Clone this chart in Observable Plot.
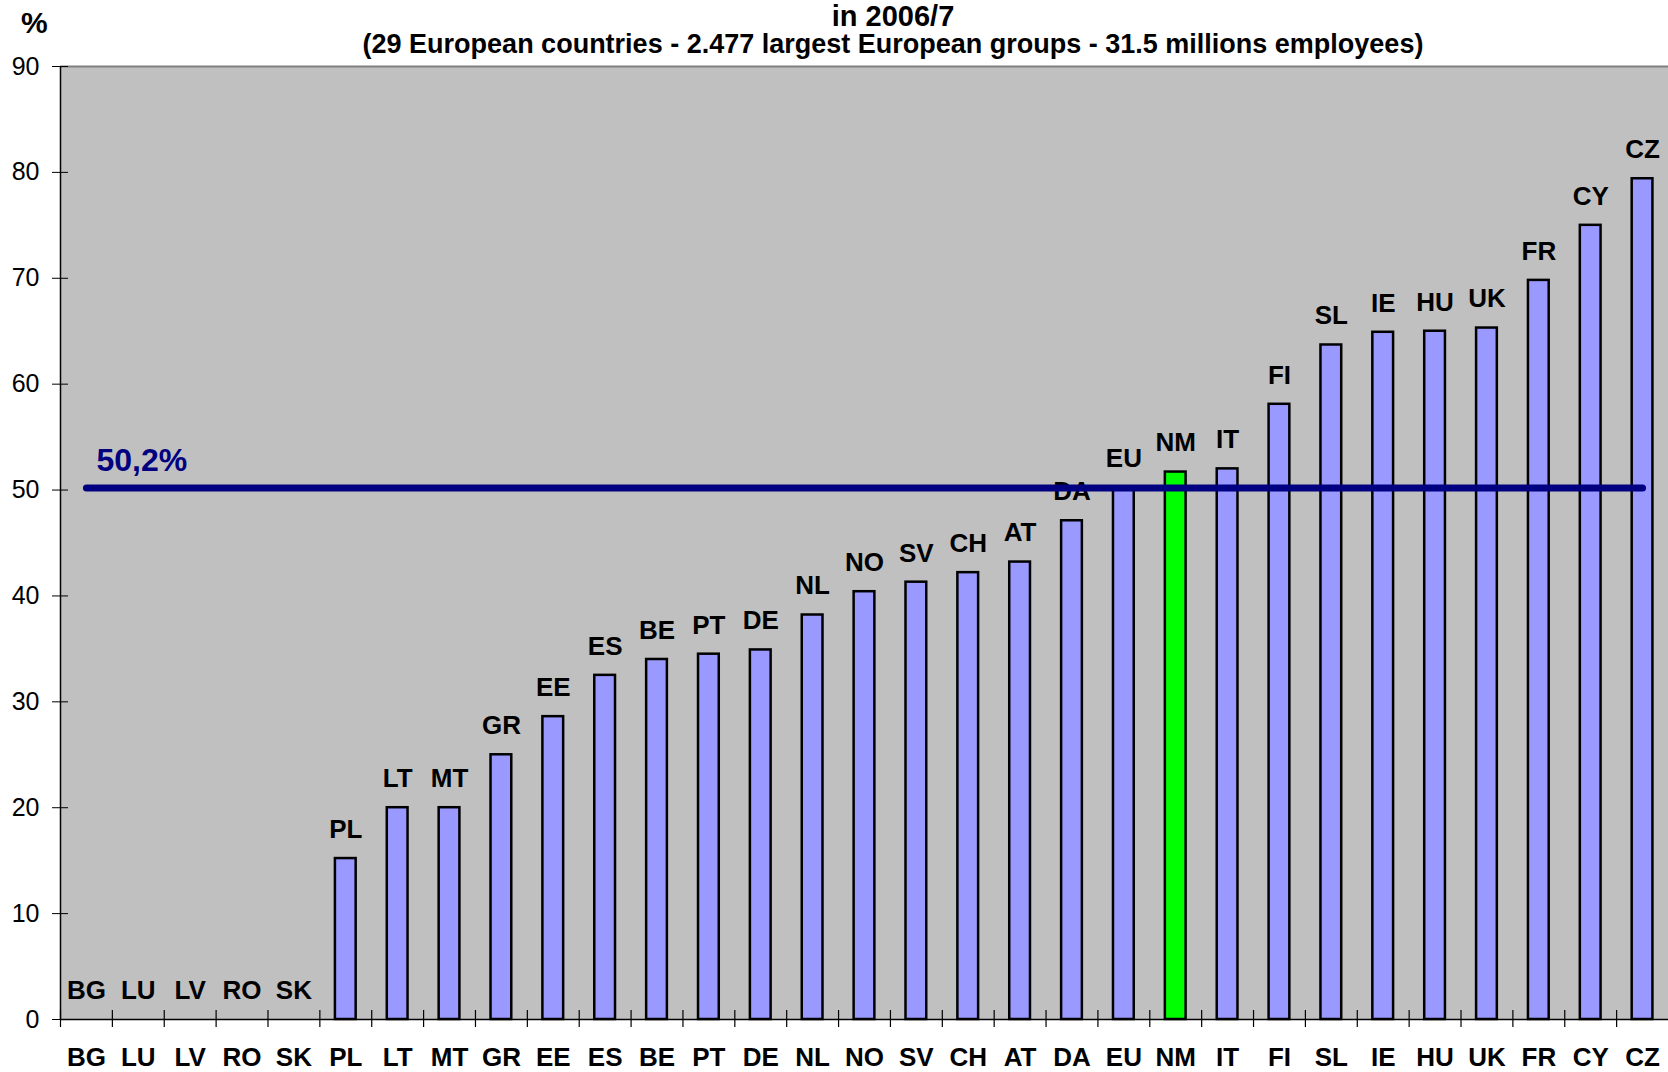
<!DOCTYPE html>
<html><head><meta charset="utf-8">
<script src="https://cdn.jsdelivr.net/npm/d3@7"></script>
<script src="https://cdn.jsdelivr.net/npm/@observablehq/plot@0.6"></script>
<style>
html,body{margin:0;padding:0;background:#fff;overflow:hidden}
#wrap{position:relative;width:1668px;height:1072px;overflow:hidden;font-family:"Liberation Sans",Arial,sans-serif}
#chart{position:absolute;left:0;top:0}
.t{position:absolute;left:0;width:1786px;text-align:center;font-weight:bold;white-space:nowrap;color:#000}
#title{top:0px;font-size:29px;line-height:33px}
#subtitle{top:31px;font-size:27px;line-height:27px}
#unit{position:absolute;left:21px;top:8px;font-size:30px;line-height:30px;font-weight:bold}
</style></head><body>
<div id="wrap">
<div id="chart"></div>
<div id="title" class="t">in 2006/7</div>
<div id="subtitle" class="t">(29 European countries - 2.477 largest European groups - 31.5 millions employees)</div>
<div id="unit">%</div>
</div>
<script>
const codes = ["BG","LU","LV","RO","SK","PL","LT","MT","GR","EE","ES","BE","PT","DE","NL","NO","SV","CH","AT","DA","EU","NM","IT","FI","SL","IE","HU","UK","FR","CY","CZ"];
const values = [0,0,0,0,0,15.2,20.0,20.0,25.0,28.6,32.5,34.0,34.5,34.9,38.2,40.4,41.3,42.2,43.2,47.1,50.2,51.7,52.0,58.1,63.7,64.9,65.0,65.3,69.8,75.0,79.4];
const highlight = "NM";
const average = 50.2;
const averageLabel = "50,2%";
const yTicks = [0,10,20,30,40,50,60,70,80,90];

const data = codes.map((c, i) => ({code: c, value: values[i]}));
const averageLine = [codes[0], codes[codes.length - 1]].map(c => ({code: c, value: average}));

const W = 1668, H = 1072, mL = 60, mR = 0, mT = 66, mB = 53;
const step = (W - mL - mR) / codes.length;
const font = "Liberation Sans, Arial, sans-serif";

const chart = Plot.plot({
  width: W, height: H,
  marginLeft: mL, marginRight: mR, marginTop: mT, marginBottom: mB,
  style: {background: "transparent", fontFamily: font, color: "black"},
  x: {domain: codes, paddingInner: 0.6, paddingOuter: 0.3, round: false, label: null},
  y: {domain: [0, 90], ticks: yTicks, label: null},
  marks: [
    Plot.frame({fill: "#C0C0C0", stroke: "none"}),
    Plot.ruleY([90], {stroke: "#808080", strokeWidth: 2}),
    Plot.ruleX([codes[0]], {x: d => d, dx: -step / 2, stroke: "black", strokeWidth: 1.5}),
    Plot.ruleY([0], {stroke: "black", strokeWidth: 1.5}),
    Plot.ruleX(codes, {x: d => d, y1: 0, y2: 0, insetTop: -9, insetBottom: -8, dx: -step / 2, stroke: "black", strokeWidth: 1.2}),
    Plot.axisY({ticks: yTicks, tickSize: 8, tickPadding: 13, fontSize: 25, label: null}),
    Plot.axisY({ticks: yTicks, tickSize: -8, tickFormat: () => "", label: null}),
    Plot.axisX({tickSize: 0, tickPadding: 28, fontSize: 26, fontWeight: "bold", label: null}),
    Plot.barY(data.filter(d => d.value > 0), {
      x: "code", y: "value",
      fill: d => d.code === highlight ? "#00FF00" : "#9999FF",
      stroke: "black", strokeWidth: 2.5
    }),
    Plot.text(data, {x: "code", y: "value", text: "code", dy: -29, fontSize: 26, fontWeight: "bold", fill: "black"}),
    Plot.line(averageLine, {x: "code", y: "value", stroke: "#000080", strokeWidth: 7, strokeLinecap: "round"}),
    Plot.text([average], {x: () => codes[0], y: d => d, text: () => averageLabel, dx: 10, dy: -27, textAnchor: "start", fill: "#000080", fontSize: 32, fontWeight: "bold"})
  ]
});
document.getElementById("chart").appendChild(chart);
</script>
</body></html>
